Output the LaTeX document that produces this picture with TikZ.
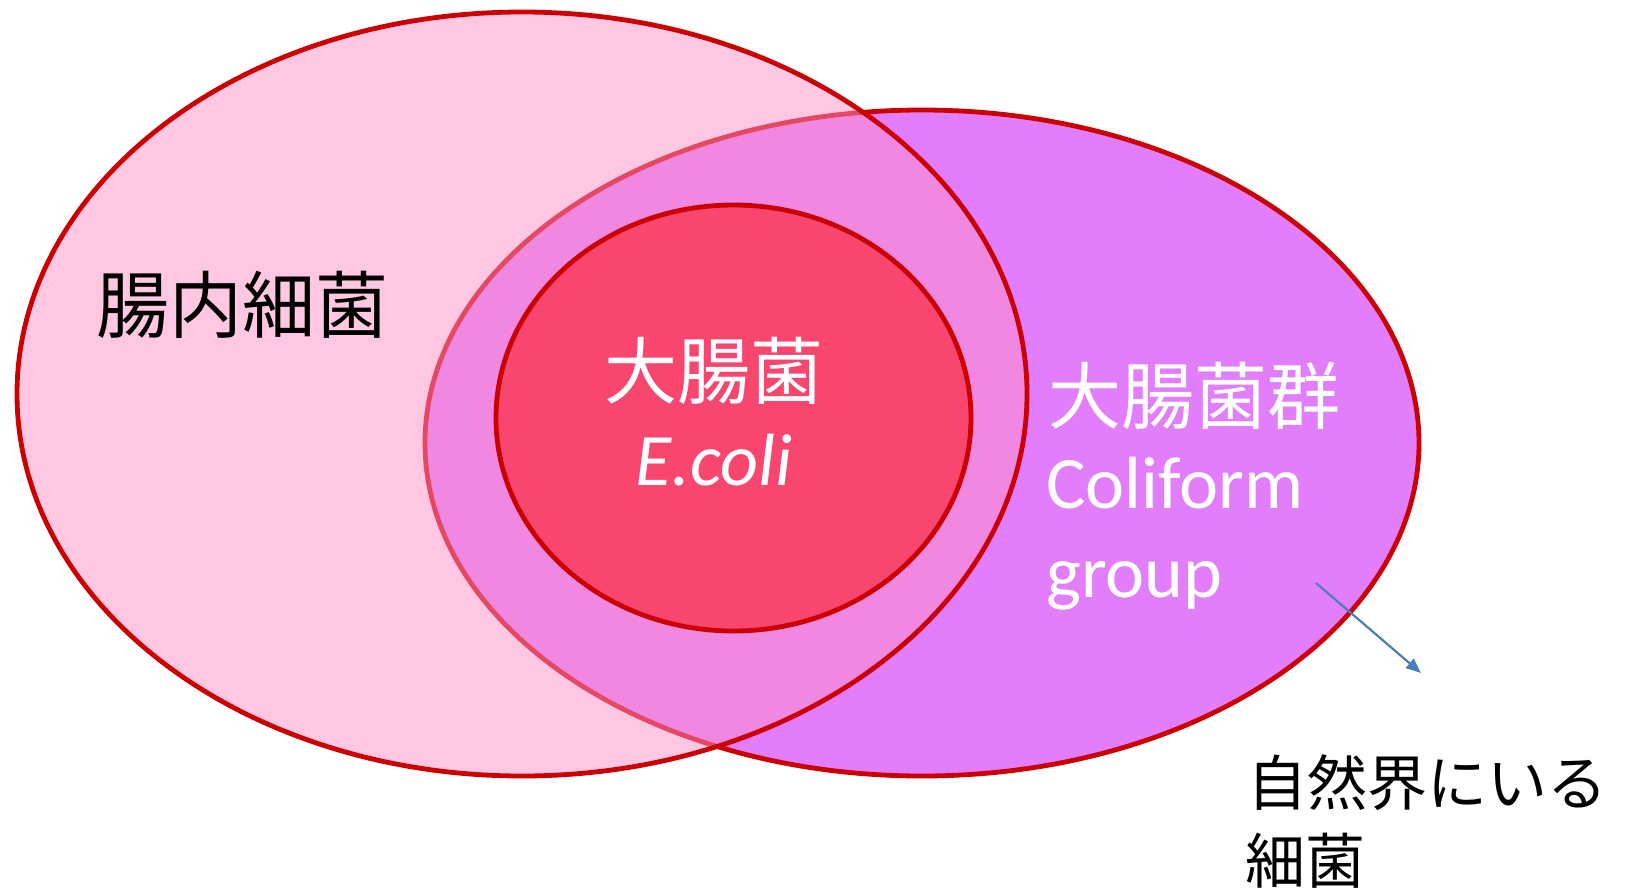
\documentclass[tikz,border=0pt]{standalone}
\usepackage{fontspec}
\setmainfont{Carlito}
\newfontfamily\jp{Noto Sans CJK JP}
\usetikzlibrary{arrows.meta}
\definecolor{ered}{HTML}{CC0000}
\definecolor{pinkA}{HTML}{FF91C7}
\definecolor{magA}{HTML}{E27EFC}
\definecolor{coreA}{HTML}{F8466F}
\definecolor{arrowblue}{HTML}{4A7EBB}
\tikzset{
  setshape/.style={draw=ered, line width=4.8pt},
  bigjp/.style={font=\jp\fontsize{73}{86}\selectfont, inner sep=0pt},
  smalljp/.style={font=\jp\fontsize{60}{70}\selectfont, inner sep=0pt},
  latin/.style={font=\fontsize{74}{88}\selectfont, inner sep=0pt, text=white},
}
\begin{document}
\begin{tikzpicture}[x=1pt,y=-1pt]
\useasboundingbox (0,0) rectangle (1627,887);
\fill[white] (0,0) rectangle (1627,887);
% coliform group
\path[setshape, fill=magA] (922,443) ellipse [x radius=497pt, y radius=333pt];
% intestinal bacteria
\path[setshape, fill=pinkA, fill opacity=0.5] (522,394) ellipse [x radius=505pt, y radius=382pt];
% E. coli
\path[setshape, fill=coreA] (733.5,418) ellipse [x radius=237.5pt, y radius=213pt];

\node[bigjp] (intestinal) at (242,305) {腸内細菌};
\node[bigjp, text=white] (ecolijp) at (714,371) {大腸菌};
\node[latin, anchor=base] (ecoli) at (714,485) {\itshape E.coli};
\node[bigjp, text=white, anchor=west] (coliformjp) at (1048,396) {大腸菌群};
\node[latin, anchor=base west] (coliform) at (1046,508) {Coliform};
\node[latin, anchor=base west] (group) at (1046,597) {group};
\node[smalljp, anchor=west] (nature1) at (1247,783) {自然界にいる};
\node[smalljp, anchor=west] (nature2) at (1245,861) {細菌};

\coordinate (arrowstart) at (1316,583);
\coordinate (arrowend) at (1421,673);
\draw[arrowblue, line width=2.2pt, -{Triangle[length=15pt,width=12pt]}] (arrowstart) -- (arrowend);
\end{tikzpicture}
\end{document}
